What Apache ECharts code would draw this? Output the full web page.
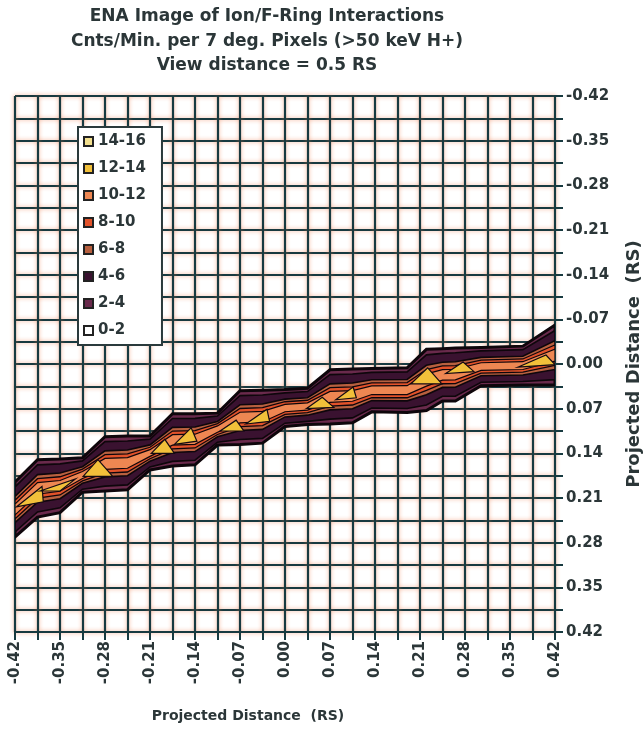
<!DOCTYPE html>
<html><head><meta charset="utf-8">
<script src="https://cdn.jsdelivr.net/npm/echarts@6/dist/echarts.min.js"></script>
<style>html,body{margin:0;padding:0;background:#fff}#c{width:644px;height:729px}</style>
</head><body><div id="c"></div>
<script>
// ---------- data ----------
const titleLines = ['ENA Image of Ion/F-Ring Interactions', 'Cnts/Min. per 7 deg. Pixels (>50 keV H+)', 'View distance = 0.5 RS'];
const axisName = 'Projected Distance  (RS)';
const xTickLabels = ['-0.42','-0.35','-0.28','-0.21','-0.14','-0.07','0.00','0.07','0.14','0.21','0.28','0.35','0.42'];
const yTickLabels = ['-0.42','-0.35','-0.28','-0.21','-0.14','-0.07','0.00','0.07','0.14','0.21','0.28','0.35','0.42'];
const levelNames  = ['14-16','12-14','10-12','8-10','6-8','4-6','2-4','0-2'];
const levelColors = ['#f2df8e','#f2c03a','#ee8752','#e2522a','#b8603f','#3a1230','#6a2a4c','#ffffff'];

// outer contour of the count band (edge of the 2-4 level), read at shared x nodes
const xNodes     = [-0.42,-0.385,-0.35,-0.315,-0.28,-0.245,-0.21,-0.175,-0.14,-0.105,-0.07,-0.035,0.0,0.035,0.07,0.105,0.135,0.19,0.22,0.245,0.265,0.305,0.37,0.42];
const bandTop    = [0.185,0.150,0.149,0.147,0.114,0.113,0.113,0.078,0.078,0.077,0.042,0.041,0.040,0.038,0.009,0.008,0.007,0.006,-0.023,-0.024,-0.025,-0.026,-0.028,-0.061];
const bandBottom = [0.271,0.240,0.233,0.201,0.199,0.197,0.166,0.160,0.158,0.127,0.126,0.124,0.098,0.095,0.094,0.092,0.075,0.076,0.073,0.058,0.058,0.034,0.033,0.033];
// position of each nested level across the band (0 = top edge, 1 = bottom edge)
const levelBand_2_4   = [0.00, 1.00];
const levelBand_4_6   = [0.09, 0.91];
const levelBand_6_8   = [0.26, 0.74];
const levelBand_8_10  = [0.33, 0.67];
const levelBand_10_12 = [0.40, 0.60];
// 12-14 peak patches (triangles)
const peakPatches = [
  [[-0.418,0.224],[-0.378,0.192],[-0.376,0.216]],
  [[-0.381,0.199],[-0.326,0.180],[-0.350,0.199]],
  [[-0.314,0.176],[-0.291,0.150],[-0.268,0.176]],
  [[-0.208,0.140],[-0.187,0.118],[-0.172,0.140]],
  [[-0.172,0.126],[-0.146,0.100],[-0.137,0.121]],
  [[-0.101,0.105],[-0.076,0.088],[-0.064,0.105]],
  [[-0.061,0.094],[-0.028,0.071],[-0.024,0.090]],
  [[0.033,0.070],[0.058,0.052],[0.076,0.068]],
  [[0.079,0.056],[0.106,0.036],[0.111,0.053]],
  [[0.196,0.031],[0.222,0.006],[0.244,0.031]],
  [[0.250,0.015],[0.277,-0.003],[0.294,0.012]],
  [[0.362,0.005],[0.406,-0.014],[0.420,0.001]]
];

// ---------- chart ----------
const INK = '#173a40';
const TXT = '#2b3638';
const FONT = 'DejaVu Sans';
const colorOf = n => levelColors[levelNames.indexOf(n)];

function tickFmt(labels){
  return v => { const i = Math.round((v + 0.42) / 0.035); return i % 2 === 0 ? labels[i / 2] : ''; };
}

function bandSeries(name, frac, lw){
  const color = colorOf(name);
  return {
    name, type:'custom', coordinateSystem:'cartesian2d', clip:true,
    itemStyle:{color, borderColor:'#222', borderWidth:1},
    data: xNodes.map((x,i)=>[x, bandTop[i], bandBottom[i]]),
    encode:{x:0, y:[1,2]},
    renderItem(params, api){
      if (params.dataIndex !== 0) return null;
      const up = [], lo = [];
      for (let i = 0; i < xNodes.length; i++){
        const t = bandTop[i], b = bandBottom[i];
        up.push(api.coord([xNodes[i], t + (b - t) * frac[0]]));
        lo.push(api.coord([xNodes[i], t + (b - t) * frac[1]]));
      }
      return {type:'polygon', shape:{points: up.concat(lo.reverse())},
              style:{fill:color, stroke:'#0e060b', lineWidth:lw}};
    }
  };
}

const series = [
  {name:'0-2', type:'custom', itemStyle:{color:colorOf('0-2'), borderColor:'#222', borderWidth:1}, data:[], renderItem(){return null;}},
  bandSeries('2-4', levelBand_2_4, 3),
  bandSeries('4-6', levelBand_4_6, 1.6),
  bandSeries('6-8', levelBand_6_8, 1.6),
  bandSeries('8-10', levelBand_8_10, 1.3),
  bandSeries('10-12', levelBand_10_12, 1.2),
  {
    name:'12-14', type:'custom', coordinateSystem:'cartesian2d', clip:true,
    itemStyle:{color:colorOf('12-14'), borderColor:'#222', borderWidth:1},
    data: peakPatches.map(p => [p[0][0], p[0][1]]),
    renderItem(params, api){
      const pts = peakPatches[params.dataIndex].map(p => api.coord(p));
      return {type:'polygon', shape:{points:pts}, style:{fill:colorOf('12-14'), stroke:'#140a12', lineWidth:1.2}};
    }
  },
  {name:'14-16', type:'custom', itemStyle:{color:colorOf('14-16'), borderColor:'#222', borderWidth:1}, data:[], renderItem(){return null;}}
];

const gridLine = {show:true, lineStyle:{color:INK, width:2.2, shadowColor:'rgba(240,120,70,0.6)', shadowBlur:4}};

const option = {
  backgroundColor:'#ffffff',
  animation:false,
  grid:{left:15, right:89, top:96, bottom:97, containLabel:false, outerBoundsMode:'none'},
  graphic: titleLines.map((t,i)=>({
    type:'text', x:267, y:17 + 24.5*i,
    style:{text:t, align:'center', verticalAlign:'middle', fontFamily:FONT, fontWeight:'bold', fontSize:17, fill:TXT}
  })),
  legend:{
    data: levelNames, orient:'vertical', left:78, top:127,
    itemWidth:9, itemHeight:9, itemGap:12, icon:'rect',
    backgroundColor:'#ffffff', borderColor:'#2a3a3c', borderWidth:2, padding:[7,16,7,5],
    selectedMode:false,
    textStyle:{fontFamily:FONT, fontWeight:'bold', fontSize:15, color:TXT, lineHeight:15}
  },
  xAxis:{
    type:'value', min:-0.42, max:0.42, interval:0.035, position:'bottom',
    axisLine:{show:true, onZero:false, lineStyle:{color:INK, width:2}},
    axisTick:{show:true, length:8, lineStyle:{color:INK, width:2}},
    axisLabel:{rotate:90, margin:9, formatter:tickFmt(xTickLabels), fontFamily:FONT, fontWeight:'bold', fontSize:15, color:TXT, showMinLabel:true, showMaxLabel:true},
    splitLine:gridLine,
    name:axisName, nameLocation:'middle', nameGap:77,
    nameTextStyle:{fontFamily:FONT, fontWeight:'bold', fontSize:14, color:TXT, padding:[0,74,0,0]}
  },
  yAxis:{
    type:'value', min:-0.42, max:0.42, interval:0.035, position:'right', inverse:true,
    axisLine:{show:true, onZero:false, lineStyle:{color:INK, width:2}},
    axisTick:{show:true, length:8, lineStyle:{color:INK, width:2}},
    axisLabel:{margin:11, formatter:tickFmt(yTickLabels), fontFamily:FONT, fontWeight:'bold', fontSize:15, color:TXT, showMinLabel:true, showMaxLabel:true},
    splitLine:gridLine,
    name:axisName, nameLocation:'middle', nameGap:70, nameRotate:90,
    nameTextStyle:{fontFamily:FONT, fontWeight:'bold', fontSize:18, color:TXT}
  },
  series
};

const chart = echarts.init(document.getElementById('c'), null, {renderer:'canvas'});
chart.setOption(option);
</script></body></html>
